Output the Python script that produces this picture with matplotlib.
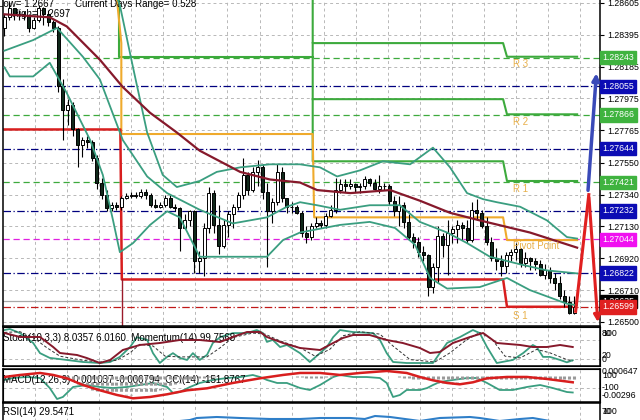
import matplotlib
matplotlib.use("Agg")
import matplotlib.pyplot as plt
import matplotlib.transforms as mtrans
import numpy as np

plt.rcParams['font.family'] = ['Liberation Sans', 'DejaVu Sans']

# ---- bars (open of each bar = previous close)
first_open = 1.2844
close = [1.2851, 1.2857, 1.2853, 1.2853, 1.2852, 1.2844, 1.2849, 1.2857, 1.2853, 1.2848,
         1.2844, 1.2806, 1.2790, 1.2793, 1.2777, 1.2767, 1.2770, 1.2769, 1.2758, 1.2742,
         1.2734, 1.2725, 1.2727, 1.2726, 1.2732, 1.2733, 1.2734, 1.2733, 1.2736, 1.2734,
         1.2727, 1.2726, 1.2727, 1.2732, 1.2726, 1.2725, 1.2712, 1.2717, 1.2723, 1.2690,
         1.2692, 1.2712, 1.2735, 1.2714, 1.2700, 1.2714, 1.2721, 1.2726, 1.2734, 1.2747,
         1.2737, 1.2749, 1.2752, 1.2736, 1.2723, 1.2729, 1.2749, 1.2732, 1.2726, 1.2726,
         1.2722, 1.2709, 1.2706, 1.2713, 1.2715, 1.2714, 1.2720, 1.2724, 1.2737, 1.2741,
         1.2740, 1.2741, 1.2739, 1.2740, 1.2744, 1.2742, 1.2738, 1.2740, 1.2740, 1.2730,
         1.2723, 1.2727, 1.2716, 1.2706, 1.2703, 1.2696, 1.2694, 1.2673, 1.2686, 1.2707,
         1.2701, 1.2709, 1.2711, 1.2714, 1.2712, 1.2704, 1.2724, 1.2722, 1.2713, 1.2703,
         1.2692, 1.2690, 1.2687, 1.2694, 1.2696, 1.2698, 1.2689, 1.2692, 1.2690, 1.2688,
         1.2681, 1.2684, 1.2679, 1.2676, 1.2667, 1.2663, 1.2656, 1.2660]
high = [1.2853, 1.2861, 1.2857, 1.2856, 1.2855, 1.2853, 1.2851, 1.2859, 1.2858, 1.2856,
        1.2849, 1.2845, 1.2810, 1.2797, 1.2795, 1.2778, 1.2772, 1.2773, 1.2770, 1.2760,
        1.2745, 1.2737, 1.2729, 1.2729, 1.2733, 1.2735, 1.2736, 1.2736, 1.2738, 1.2738,
        1.2735, 1.2731, 1.2729, 1.2734, 1.2734, 1.2728, 1.2726, 1.2721, 1.2724, 1.2724,
        1.2697, 1.2715, 1.2739, 1.2737, 1.2727, 1.2717, 1.2723, 1.2728, 1.2736, 1.2758,
        1.2749, 1.2752, 1.2757, 1.2754, 1.2742, 1.2732, 1.2754, 1.2752, 1.2732, 1.2729,
        1.2727, 1.2723, 1.2713, 1.2715, 1.2719, 1.2717, 1.2722, 1.2727, 1.2745, 1.2744,
        1.2744, 1.2744, 1.2742, 1.2742, 1.2746, 1.2745, 1.2744, 1.2747, 1.2742, 1.2741,
        1.2733, 1.2733, 1.2729, 1.2721, 1.2709, 1.2706, 1.2700, 1.2695, 1.2689, 1.2713,
        1.2709, 1.2717, 1.2713, 1.2717, 1.2716, 1.2717, 1.2729, 1.2731, 1.2724, 1.2719,
        1.2706, 1.2699, 1.2694, 1.2696, 1.2698, 1.2702, 1.2699, 1.2696, 1.2693, 1.2692,
        1.2691, 1.2688, 1.2686, 1.2682, 1.2680, 1.2671, 1.2667, 1.2667]
low = [1.2839, 1.2849, 1.2849, 1.2849, 1.2849, 1.2841, 1.2843, 1.2848, 1.2846, 1.2845,
       1.2841, 1.2802, 1.2770, 1.2780, 1.2773, 1.2752, 1.2759, 1.2765, 1.2756, 1.2738,
       1.2731, 1.2723, 1.2723, 1.2724, 1.2724, 1.2731, 1.2732, 1.2732, 1.2732, 1.2731,
       1.2726, 1.2725, 1.2725, 1.2726, 1.2725, 1.2723, 1.2697, 1.2711, 1.2713, 1.2682,
       1.2682, 1.2680, 1.2709, 1.2709, 1.2695, 1.2699, 1.2706, 1.2712, 1.2724, 1.2731,
       1.2734, 1.2736, 1.2740, 1.2731, 1.2686, 1.2715, 1.2727, 1.2729, 1.2722, 1.2722,
       1.2721, 1.2706, 1.2702, 1.2704, 1.2712, 1.2712, 1.2712, 1.2719, 1.2722, 1.2735,
       1.2736, 1.2738, 1.2736, 1.2735, 1.2738, 1.2740, 1.2737, 1.2735, 1.2737, 1.2727,
       1.2720, 1.2713, 1.2712, 1.2704, 1.2699, 1.2693, 1.2690, 1.2667, 1.2669, 1.2676,
       1.2693, 1.2681, 1.2702, 1.2702, 1.2704, 1.2702, 1.2703, 1.2717, 1.2712, 1.2701,
       1.2690, 1.2684, 1.2680, 1.2682, 1.2690, 1.2691, 1.2686, 1.2686, 1.2684, 1.2684,
       1.2680, 1.2678, 1.2676, 1.2671, 1.2665, 1.2660, 1.2655, 1.2655]

# ---- moving average and bollinger bands (bar index, price)
ma_x = [0, 9.3, 12.8, 19.6, 24.3, 29.9, 35.4, 40.1, 48.4, 54.5, 60.7, 64.2, 71.0, 79.2, 85.3, 91.5, 97.6, 107.9, 117.6]
ma_y = [1.2853, 1.2851, 1.2845, 1.2823, 1.2805, 1.2788, 1.2775, 1.2763, 1.2749, 1.2744, 1.2742, 1.2737, 1.2735, 1.2737,
        1.2730, 1.2722, 1.2717, 1.2709, 1.2699]
bb_up_x = [0, 10.8, 21.7, 23.7, 26.4, 29.3, 32.5, 35.4, 40.1, 43.6, 48.4, 54.5, 60.7, 64.8, 68.3, 73.0, 77.7, 83.3,
           88.0, 91.5, 95.0, 98.3, 101.1, 105.9, 111.4, 115.5, 117.6]
bb_up_y = [1.2872, 1.2876, 1.2876, 1.2859, 1.2818, 1.2775, 1.2747, 1.2739, 1.2743, 1.2749, 1.2752, 1.2754, 1.2754,
           1.2752, 1.2746, 1.2750, 1.2756, 1.2754, 1.2765, 1.2752, 1.2735, 1.2731, 1.2729, 1.2726, 1.2717, 1.2706, 1.2705]
bb_mid_x = [0, 5.9, 10.8, 16.1, 19.6, 24.3, 29.3, 33.4, 40.1, 46.9, 53.9, 58.0, 60.7, 64.2, 68.9, 75.0, 81.2, 85.3,
            90.9, 95.0, 99.7, 105.9, 111.4, 117.6]
bb_mid_y = [1.2829, 1.2836, 1.2844, 1.2825, 1.2810, 1.2770, 1.2746, 1.2735, 1.2724, 1.2715, 1.2719, 1.2726, 1.2729,
            1.2727, 1.2724, 1.2727, 1.2727, 1.2716, 1.2709, 1.2702, 1.2693, 1.2688, 1.2684, 1.2682]
bb_lo_x = [0, 1.1, 5.9, 9.3, 12.8, 17.6, 20.2, 22.3, 23.7, 26.4, 29.9, 33.4, 36.0, 40.1, 53.9, 57.2, 60.7, 68.9,
           75.0, 80.2, 84.3, 87.4, 90.9, 97.6, 103.2, 107.9, 115.5, 117.6]
bb_lo_y = [1.2818, 1.2812, 1.2812, 1.2821, 1.2801, 1.2770, 1.2747, 1.2717, 1.2696, 1.2702, 1.2714, 1.2723, 1.2719,
           1.2693, 1.2693, 1.2704, 1.2709, 1.2714, 1.2716, 1.2712, 1.2701, 1.2679, 1.2672, 1.2673, 1.2679, 1.2671,
           1.2662, 1.2661]

# ---- daily pivot steps
r_d2_x, r_d2_y = [23.6, 23.6, 63.3], [1.2870, 1.2825, 1.2825]
r3_x, r3_y = [63.3, 63.3, 102.4, 103.2, 117.6], [1.2870, 1.2834, 1.2834, 1.2825, 1.2825]
r2_x, r2_y = [63.3, 102.4, 103.2, 117.6], [1.2797, 1.2797, 1.2787, 1.2787]
r1_x, r1_y = [63.3, 63.3, 102.4, 103.2, 117.6], [1.2834, 1.2756, 1.2756, 1.2743, 1.2743]
pp_x = [23.0, 24.0, 24.0, 63.3, 63.6, 102.4, 103.2, 117.6]
pp_y = [1.2866, 1.2834, 1.2774, 1.2774, 1.2719, 1.2719, 1.2704, 1.2704]
s1_x = [0, 23.8, 24.1, 102.4, 103.2, 116.5]
s1_y = [1.2777, 1.2777, 1.2678, 1.2678, 1.2660, 1.2660]
s2_x, s2_y = [24.1, 24.1], [1.2678, 1.2640]

levels_navy = [1.28055, 1.27644, 1.27232, 1.26822]
levels_green = [1.28243, 1.27866, 1.27421]
level_pivot = 1.27044
level_s1 = 1.26599
level_bid = 1.26635
price_ticks = [1.28605, 1.28395, 1.28185, 1.27975, 1.27765, 1.27550, 1.27340, 1.27130, 1.26920, 1.26710, 1.26500]

# ---- lower indicators (bar index, value)
stoch_x = [0, 1.1, 3.2, 5.9, 7.3, 9.3, 12.8, 16.1, 19.6, 21.7, 23.7, 25.8, 27.2, 29.3, 30.5, 31.9, 33.4, 34.6, 36.0,
           37.5, 38.7, 40.1, 41.6, 42.8, 44.3, 46.9, 49.8, 51.8, 53.1, 53.9, 55.1, 56.6, 58.0, 60.7, 62.7, 64.8,
           66.2, 67.5, 68.9, 71.6, 75.7, 77.1, 78.5, 79.8, 82.6, 85.3, 88.0, 89.4, 90.9, 93.5, 96.2, 97.6, 99.1,
           101.1, 104.4, 106.5, 108.5, 109.3, 110.6, 112.0, 114.1, 115.5, 116.7]
stoch_y = [97, 100, 88, 59, 29, 15, 9, 3, 0, 3, 18, 47, 76, 68, 29, 0, 18, 29, 15, 9, 29, 9, 24, 59, 76, 88, 88, 97,
           88, 62, 68, 47, 53, 29, 3, 29, 47, 76, 97, 91, 88, 68, 29, 3, 0, 0, 0, 29, 59, 76, 97, 88, 47, 0, 9, 29,
           53, 47, 18, 18, 9, 2, 8]
signal_x = [0, 3.2, 5.9, 8.7, 11.4, 16.1, 19.6, 23.1, 25.8, 27.8, 30.5, 33.0, 36.0, 38.7, 41.6, 44.3, 46.9, 51.0,
            53.5, 56.6, 60.7, 63.8, 66.8, 69.5, 73.0, 77.1, 79.8, 83.3, 88.4, 91.5, 94.6, 97.6, 100.1, 102.8, 105.9,
            109.3, 112.0, 115.5, 116.7]
signal_y = [90, 92, 75, 45, 20, 8, 3, 8, 30, 55, 50, 20, 18, 18, 18, 45, 75, 88, 85, 65, 45, 20, 40, 80, 92, 85,
            50, 10, 3, 30, 65, 90, 70, 20, 15, 40, 30, 10, 6]
mom_x = [0, 3.2, 7.3, 10.0, 11.4, 14.9, 16.9, 19.6, 21.7, 24.3, 27.8, 31.9, 36.0, 40.1, 44.3, 46.9, 49.8, 52.5, 53.9,
         57.2, 60.7, 64.8, 67.5, 69.5, 71.6, 75.0, 78.5, 81.8, 85.3, 87.4, 89.4, 92.1, 95.6, 98.3, 101.1, 105.9,
         108.5, 111.4, 114.1, 116.7]
mom_y = [100.18, 100.06, 100.06, 99.76, 99.58, 99.52, 99.43, 99.28, 99.37, 99.67, 99.82, 99.88, 99.97, 99.97, 99.91,
         100.06, 100.21, 100.21, 100.06, 99.88, 99.73, 99.67, 99.88, 100.03, 100.12, 100.12, 99.97, 99.88, 99.73,
         99.58, 99.61, 99.88, 100.06, 100.18, 99.88, 99.82, 99.76, 99.76, 99.82, 99.76]

macd_hist = [1, 1, 1, 1, 1, 1, 1, 1, 1, 0, 0, -1, -3, -5, -9, -12, -15, -17, -20, -22,
             -24, -25, -26, -27, -28, -28, -28, -27, -27, -26, -24, -23, -21, -19, -15, -12, -10, -8, -6, -4,
             -3, -2, -1, -1, 0, 0, 0, 0, 0, 0, 0, 0, 0, 0, 0, 0, 0, 0, 0, 0,
             -1, -1, -2, -2, -2, -2, -1, -1, 0, 0, 0, 0, 0, 0, 0, 0, 0, 0, 0, 0,
             0, -1, -2, -3, -4, -5, -6, -8, -9, -10, -10, -10, -10, -10, -9, -9, -8, -6, -5, -5,
             -5, -5, -5, -5, -5, -5, -5, -5, -5, -5, -5, -5, -5, -5, -5, -5, -5, -5]  # x 1e-4
macd_sig_x = [0, 3.2, 7.3, 10.0, 12.8, 16.1, 19.6, 23.1, 26.4, 29.9, 33.4, 37.5, 41.6, 46.9, 52.5, 57.2, 60.7, 64.8,
              68.9, 73.0, 78.5, 82.6, 85.3, 88.0, 90.9, 93.5, 96.2, 99.1, 103.2, 107.3, 111.4, 116.7]
macd_sig_y = [-1, 2, 5, 2, -3, -13, -21, -28, -33, -31, -27, -21, -18, -10, -3, 2, 5, 5, 2, 5, 8, 5, -1, -6, -10,
              -12, -9, -3, -1, -1, -4, -9]  # x 1e-4
cci_x = [0, 1.7, 4.6, 7.3, 9.3, 10.8, 12.0, 14.1, 16.9, 19.6, 22.3, 25.2, 27.8, 30.5, 33.4, 34.6, 36.0, 38.1, 40.1,
         42.8, 45.7, 48.4, 51.0, 52.5, 53.9, 56.0, 58.0, 60.7, 62.7, 64.8, 67.5, 68.9, 71.6, 74.4, 77.1, 78.5, 79.8,
         81.2, 82.6, 85.3, 86.8, 88.0, 89.4, 92.1, 95.0, 97.0, 99.1, 101.7, 104.4, 107.3, 110.0, 112.6, 115.5, 116.7]
cci_y = [29, 57, 71, 57, -86, -243, -214, -71, -43, -71, -86, -71, -43, -14, -71, -157, -143, -71, -14, 29, 57, 71,
         100, 71, 29, -14, -14, -86, -114, -43, 71, 100, 71, 71, 57, -14, -214, -186, -114, -114, -86, -43, 0, 29,
         57, 57, -14, -114, -114, -71, -43, -86, -143, -150]
rsi_x = [0, 9.3, 19.6, 29.9, 38.1, 39.5, 43.6, 48.4, 54.5, 60.7, 64.8, 71.0, 74.0, 76.1, 79.2, 85.3, 89.4, 95.6,
         97.6, 101.7, 105.9, 108.5, 112.0, 117.6]
rsi_y = [20, 25, 15, 20, 40, 50, 55, 50, 45, 45, 50, 50, 45, 60, 55, 35, 50, 55, 50, 35, 45, 50, 35, 30]

GREEN = '#3DAA3D'
NAVY = '#00007F'
ORANGE = '#EFAA2C'
RED = '#D81E1E'
TEAL = '#3A9E80'
MAROON = '#86192B'
GRID = '#B8B8B8'

fig = plt.figure(figsize=(6.4, 4.2), dpi=100)
W, H = 640.0, 420.0
L, AW = 3 / W, 597 / W
ax = fig.add_axes([L, 94 / H, AW, 327.3 / H])
p1 = fig.add_axes([L, 54 / H, AW, 39 / H])
p2 = fig.add_axes([L, 18 / H, AW, 33 / H])
p3 = fig.add_axes([L, -20 / H, AW, 37 / H])

xl = (-0.3, 122.3)
gx = 6.26 + 6.59 * np.arange(18)
for a in (ax, p1, p2, p3):
    a.set_xlim(*xl)
    a.set_xticks([])
    a.set_yticks([])
    for s in a.spines.values():
        s.set_color('black')
        s.set_linewidth(1.1)
    for g in gx:
        a.axvline(g, color=GRID, lw=0.7, ls=(0, (3, 3)), zorder=0.5)

# ---- main panel
ax.set_ylim(1.26473, 1.28633)
for p in price_ticks:
    ax.axhline(p, color=GRID, lw=0.7, ls=(0, (3, 3)), zorder=0.5)
for p in levels_navy:
    ax.axhline(p, color=NAVY, lw=0.9, ls=(0, (6, 2, 1, 2)), zorder=1)
for p in levels_green:
    ax.axhline(p, color=GREEN, lw=0.9, ls=(0, (5, 3)), zorder=1)
ax.axhline(level_pivot, color='#E020E0', lw=0.9, ls=(0, (5, 3)), zorder=1)
ax.axhline(level_bid, color='#A8A8A8', lw=0.9, zorder=1)
ax.axhline(level_s1, color='#C01818', lw=0.9, ls=(0, (6, 2, 1, 2)), zorder=1)

for xs, ys in ((r_d2_x, r_d2_y), (r3_x, r3_y), (r2_x, r2_y), (r1_x, r1_y)):
    ax.plot(xs, ys, color=GREEN, lw=1.5, zorder=2)
ax.plot(pp_x, pp_y, color=ORANGE, lw=1.5, zorder=2)
ax.plot(s1_x, s1_y, color=RED, lw=1.8, zorder=2)
ax.plot(s2_x, s2_y, color='#9A1A2A', lw=1.0, zorder=2)

ax.text(-0.008, 1.2860, 'Low= 1.2667', transform=mtrans.blended_transform_factory(ax.transAxes, ax.transData),
        fontsize=7, va='center', zorder=2.5)
ax.text(0.12, 1.2860, 'Current Days Range= 0.528',
        transform=mtrans.blended_transform_factory(ax.transAxes, ax.transData), fontsize=7, va='center', zorder=2.5)
ax.text(0.015, 1.2853, 'High= 1.2697', transform=mtrans.blended_transform_factory(ax.transAxes, ax.transData),
        fontsize=7, va='center', zorder=2.5)

idx = np.arange(len(close))
c = np.array(close)
o = np.r_[first_open, c[:-1]]
up = c >= o
ax.vlines(idx, low, high, color='black', lw=0.8, zorder=3)
ax.bar(idx[up], (c - o)[up], bottom=o[up], width=0.62, facecolor='white', edgecolor='black', lw=0.7, zorder=3.1)
ax.bar(idx[~up], (o - c)[~up], bottom=c[~up], width=0.62, facecolor='#10281a', edgecolor='black', lw=0.7,
       zorder=3.1)

ax.plot(bb_up_x, bb_up_y, color=TEAL, lw=1.3, zorder=4)
ax.plot(bb_mid_x, bb_mid_y, color=TEAL, lw=1.3, zorder=4)
ax.plot(bb_lo_x, bb_lo_y, color=TEAL, lw=1.3, zorder=4)
ax.plot(ma_x, ma_y, color=MAROON, lw=1.6, zorder=4)

for name, xx, yy in (('R 3', 104.5, 1.2820), ('R 2', 104.5, 1.2782), ('R 1', 104.5, 1.2738),
                     ('Pivot Point', 104.5, 1.2700), ('S 1', 104.5, 1.2654)):
    ax.text(xx, yy, name, color='#E8B04A', fontsize=7, va='center', zorder=5)

# signal arrows at the right edge
ax.annotate('', xy=(121.6, 1.2816), xytext=(119.8, 1.2735),
            arrowprops=dict(arrowstyle='-|>', color='#3A4AB8', lw=2.5, mutation_scale=10), zorder=5)
ax.plot([117.3, 120.0], [1.2657, 1.2734], color='#E02020', lw=2.2, zorder=5)
ax.annotate('', xy=(121.9, 1.2648), xytext=(120.0, 1.2734),
            arrowprops=dict(arrowstyle='-|>', color='#E02020', lw=2.2, mutation_scale=10), zorder=5)

ax.yaxis.tick_right()
ax.set_yticks(price_ticks)
ax.set_yticklabels(['%.5f' % p for p in price_ticks])
ax.tick_params(axis='y', length=3, width=0.8, pad=2, labelsize=6.3)

tr = mtrans.blended_transform_factory(ax.transAxes, ax.transData)
boxes = [(1.28243, '#3FB33F'), (1.28055, '#0C0CB4'), (1.27866, '#3FB33F'), (1.27644, '#0C0CB4'),
         (1.27421, '#3FB33F'), (1.27232, '#0C0CB4'), (1.27044, '#F010F0'), (1.26822, '#0C0CB4'),
         (1.26635, '#000000'), (1.26599, '#E02020')]
for p, col in boxes:
    ax.text(1.004, p, '%.5f' % p, transform=tr, fontsize=6.3, color='white', va='center', ha='left',
            bbox=dict(boxstyle='square,pad=0.25', fc=col, ec=col), clip_on=False, zorder=6)

# ---- stochastic / momentum
p1.set_ylim(-8.8, 105.9)
p1.axhline(68, color=GRID, lw=0.7, ls=(0, (3, 3)), zorder=0.5)
p1.axhline(12, color=GRID, lw=0.7, ls=(0, (3, 3)), zorder=0.5)
p1m = p1.twinx()
p1m.set_position(p1.get_position())
p1m.set_ylim(99.19, 100.36)
p1m.set_xlim(*xl)
p1m.set_yticks([])
p1m.plot(mom_x, mom_y, color=MAROON, lw=1.4)
p1.plot(stoch_x, stoch_y, color=TEAL, lw=1.3, zorder=3)
p1.plot(signal_x, signal_y, color='#333333', lw=0.7, ls=(0, (3, 2)), zorder=3)
p1.text(0.0, 0.72, 'Stoch(10,3,3) 8.0357 6.0160  Momentum(14) 99.7568', transform=p1.transAxes, fontsize=7,
        va='center')

# ---- MACD / CCI
p2.set_ylim(-285.7, 185.7)
p2.axhline(-86, color=GRID, lw=0.7, ls=(0, (3, 3)), zorder=0.5)
p2m = p2.twinx()
p2m.set_position(p2.get_position())
p2m.set_ylim(-0.003855, 0.001095)
p2m.set_xlim(*xl)
p2m.set_yticks([])
p2m.vlines(idx, 0, np.array(macd_hist) * 1e-4, color='#9A9A9A', lw=2.2, linestyles=(0, (1, 1)))
p2m.plot(macd_sig_x, np.array(macd_sig_y) * 1e-4, color=RED, lw=1.8)
p2.plot(cci_x, cci_y, color=TEAL, lw=1.3, zorder=3)
p2.text(0.0, 0.67, 'MACD(12,26,9) 0.001037 -0.000794  CCI(14) -151.8767', transform=p2.transAxes, fontsize=7,
        va='center', zorder=5)

# ---- RSI
p3.set_ylim(-60, 125)
p3.plot(rsi_x, rsi_y, color='#2F7FC8', lw=1.5)
p3.text(0.0, 0.75, 'RSI(14) 29.5471', transform=p3.transAxes, fontsize=7, va='center')

# right scale texts for the lower windows
def rlabel(py, s):
    fig.text(602 / W, 1 - py / H, s, fontsize=6.3, va='center', ha='left')

rlabel(333, '100')
rlabel(333, '80')
rlabel(356, '20')
rlabel(359, '0')
rlabel(372, '0.000647')
rlabel(376, '100')
rlabel(388, '-100')
rlabel(396, '-0.00296')
rlabel(411, '100')
rlabel(411, '70')

fig.savefig('out.png', dpi=100)
